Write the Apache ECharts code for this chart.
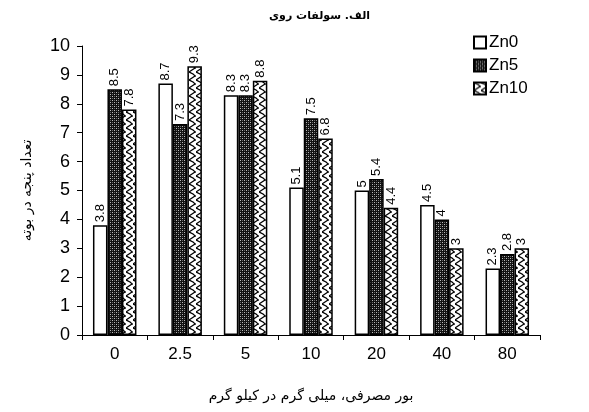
<!DOCTYPE html>
<html lang="fa">
<head>
    <meta charset="UTF-8">
    <title>سولفات روی</title>
    <style>
        body{
            margin: 0;
            background: #fff;
            overflow: hidden;
        }
        #main{
            width: 589px;
            height: 412px;
        }
    </style>
</head>
<body>
<div id="main"></div>
<script src="https://cdn.jsdelivr.net/npm/echarts@6/dist/echarts.min.js"></script>
<script>
    // داده ها
    var categories = ['0', '2.5', '5', '10', '20', '40', '80'];
    var seriesNames = ['Zn0', 'Zn5', 'Zn10'];
    var zn0 = [3.8, 8.7, 8.3, 5.1, 5, 4.5, 2.3];
    var zn5 = [8.5, 7.3, 8.3, 7.5, 5.4, 4, 2.8];
    var zn10 = [7.8, 9.3, 8.8, 6.8, 4.4, 3, 3];

    // hatch patterns
    function darkPattern() {
        var c = document.createElement('canvas');
        c.width = 4; c.height = 4;
        var ctx = c.getContext('2d');
        ctx.fillStyle = '#111';
        ctx.fillRect(0, 0, 4, 4);
        ctx.fillStyle = '#bbb';
        ctx.fillRect(0, 0, 1, 1);
        ctx.fillRect(2, 2, 1, 1);
        ctx.fillStyle = '#666';
        ctx.fillRect(2, 0, 1, 1);
        ctx.fillRect(0, 2, 1, 1);
        return c;
    }
    function scalePattern() {
        var c = document.createElement('canvas');
        c.width = 7; c.height = 8;
        var ctx = c.getContext('2d');
        ctx.fillStyle = '#fff';
        ctx.fillRect(0, 0, 7, 8);
        ctx.strokeStyle = '#000';
        ctx.lineWidth = 1.2;
        ctx.beginPath();
        ctx.moveTo(0, 0);
        ctx.quadraticCurveTo(5, 2, 6, 4);
        ctx.quadraticCurveTo(3, 6, 0, 8);
        ctx.stroke();
        ctx.beginPath();
        ctx.moveTo(6, 4);
        ctx.lineTo(7, 4);
        ctx.stroke();
        return c;
    }

    var fills = [
        '#ffffff',
        {image: darkPattern(), repeat: 'repeat'},
        {image: scalePattern(), repeat: 'repeat'}
    ];
    var values = [zn0, zn5, zn10];

    var series = [];
    for (var i = 0; i < seriesNames.length; i++) {
        series.push({
            name: seriesNames[i],
            type: 'bar',
            data: values[i],
            barWidth: 14.5,
            barGap: '0%',
            itemStyle: {
                color: fills[i],
                borderColor: '#000',
                borderWidth: 1.5
            },
            label: {
                show: true,
                position: 'top',
                rotate: 90,
                align: 'left',
                verticalAlign: 'middle',
                distance: 3,
                color: '#000',
                fontFamily: 'Liberation Sans',
                fontSize: 13
            }
        });
    }

    var mychart = echarts.init(document.getElementById('main'), null, {renderer: 'canvas'});
    var option = {
        animation: false,
        title: {
            text: 'الف. سولفات روی',
            left: 264,
            top: 6,
            textStyle: {
                fontFamily: 'DejaVu Sans',
                fontSize: 11,
                fontWeight: 'bold',
                color: '#000'
            }
        },
        legend: {
            orient: 'vertical',
            left: 468,
            top: 29,
            itemGap: 6,
            icon: 'rect',
            itemWidth: 12,
            itemHeight: 12,
            data: seriesNames,
            textStyle: {
                fontFamily: 'Liberation Sans',
                fontSize: 17,
                color: '#000',
                padding: [0, 0, 0, -2]
            }
        },
        grid: {
            left: 82,
            right: 49,
            top: 46,
            bottom: 77,
            containLabel: false
        },
        xAxis: {
            type: 'category',
            data: categories,
            name: 'بور مصرفی، میلی گرم در کیلو گرم',
            nameLocation: 'middle',
            nameGap: 54,
            nameTextStyle: {
                fontFamily: 'DejaVu Sans',
                fontSize: 14,
                color: '#000'
            },
            axisLine: {lineStyle: {color: '#000', width: 1}},
            axisTick: {show: true, length: 5, lineStyle: {color: '#000'}},
            axisLabel: {
                margin: 11,
                fontFamily: 'Liberation Sans',
                fontSize: 17,
                color: '#000'
            }
        },
        yAxis: {
            type: 'value',
            min: 0,
            max: 10,
            interval: 1,
            name: 'تعداد پنجه در بوته',
            nameLocation: 'middle',
            nameGap: 48,
            nameTextStyle: {
                fontFamily: 'DejaVu Sans',
                fontSize: 14,
                color: '#000'
            },
            axisLine: {show: true, lineStyle: {color: '#000', width: 1}},
            axisTick: {show: true, length: 5, lineStyle: {color: '#000'}},
            splitLine: {show: false},
            axisLabel: {
                margin: 12,
                fontFamily: 'Liberation Sans',
                fontSize: 18,
                color: '#000'
            }
        },
        series: series
    };
    mychart.setOption(option);
</script>
</body>
</html>
